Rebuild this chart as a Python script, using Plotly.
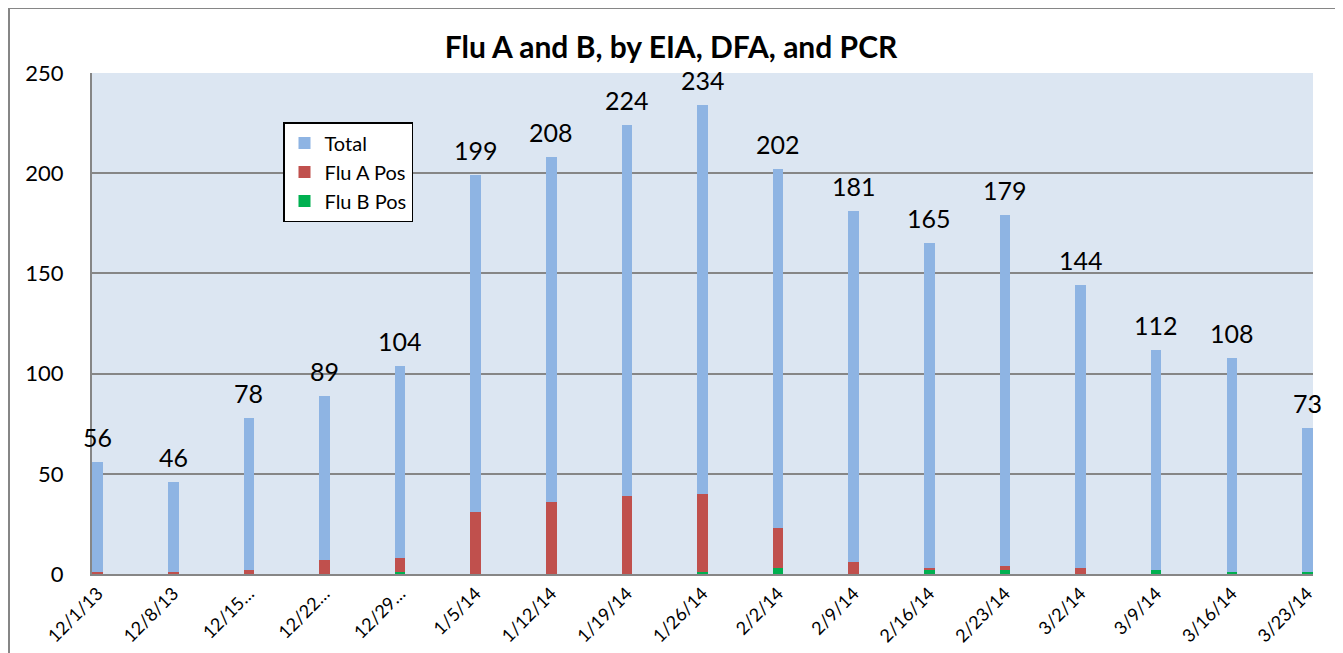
import plotly.graph_objects as go

weeks = ["12/1/13", "12/8/13", "12/15…", "12/22…", "12/29…", "1/5/14", "1/12/14",
         "1/19/14", "1/26/14", "2/2/14", "2/9/14", "2/16/14", "2/23/14", "3/2/14",
         "3/9/14", "3/16/14", "3/23/14"]
total = [56, 46, 78, 89, 104, 199, 208, 224, 234, 202, 181, 165, 179, 144, 112, 108, 73]
flu_a = [1, 1, 2, 7, 8, 31, 36, 39, 40, 23, 6, 3, 4, 3, 0, 0, 0]
flu_b = [0, 0, 0, 0, 1, 0, 0, 0, 1, 3, 0, 2, 2, 0, 2, 1, 1]

FONT = "Lato, 'Open Sans', sans-serif"
bw = 0.14

fig = go.Figure()
fig.add_trace(go.Bar(x=weeks, y=total, name="Total", marker=dict(color="#8EB4E3", line=dict(width=0)),
                     width=bw))
fig.add_trace(go.Bar(x=weeks, y=flu_a, name="Flu A Pos", marker=dict(color="#C0504D", line=dict(width=0)),
                     width=bw))
fig.add_trace(go.Bar(x=weeks, y=flu_b, name="Flu B Pos", marker=dict(color="#00B050", line=dict(width=0)),
                     width=bw))

# data labels for the Total series
for wk, val in zip(weeks, total):
    fig.add_annotation(x=wk, y=val, text=str(val), showarrow=False, yanchor="bottom",
                       yshift=9, borderpad=0, font=dict(size=25, color="black", family=FONT))

# the page body adds an 8px margin, so work in page pixels and shift by 8
OFF = 8
W, H = 1343 - OFF, 653 - OFF
L, R, T, B = 92 - OFF, 1313 - OFF, 73 - OFF, 574 - OFF
pw, ph = R - L, B - T

def px_x(x):
    return (x - OFF - L) / pw

def px_y(y):
    return (B - (y - OFF)) / ph

fig.update_layout(
    width=W, height=H,
    margin=dict(l=L, r=W - R, t=T, b=H - B, autoexpand=False),
    paper_bgcolor="white",
    plot_bgcolor="#DCE6F2",
    barmode="overlay",
    bargap=0,
    font=dict(family=FONT, color="black"),
    title=dict(text="<b>Flu A and B, by EIA, DFA, and PCR</b>", x=(671 - OFF) / W, xref="container",
               xanchor="center", y=1 - (47 - OFF) / H, yref="container", yanchor="middle",
               font=dict(size=30, family=FONT, color="black")),
    showlegend=True,
    legend=dict(x=px_x(283), y=px_y(122), xanchor="left", yanchor="top",
                bgcolor="white", bordercolor="black", borderwidth=1.5,
                font=dict(size=20, family=FONT, color="black"), itemwidth=30,
                tracegroupgap=0),
    xaxis=dict(type="category", range=[-0.075, 16.074], tickangle=-45, automargin=False,
               tickfont=dict(size=18, family=FONT, color="black"),
               showgrid=False, showline=True, linecolor="#868686", linewidth=2,
               ticks="", fixedrange=True),
    yaxis=dict(range=[0, 250], dtick=50, automargin=False, tickfont=dict(size=22, family=FONT, color="black"),
               showgrid=True, gridcolor="#868686", gridwidth=1.5,
               showline=True, linecolor="#868686", linewidth=2, ticks="",
               zeroline=False, ticklabelstandoff=22, fixedrange=True),
    shapes=[dict(type="rect", xref="paper", yref="paper",
                 x0=px_x(9), x1=px_x(1341), y0=px_y(690), y1=px_y(8),
                 line=dict(color="#868686", width=2), fillcolor="rgba(0,0,0,0)", layer="below")],
)

fig.write_html("out.html")
